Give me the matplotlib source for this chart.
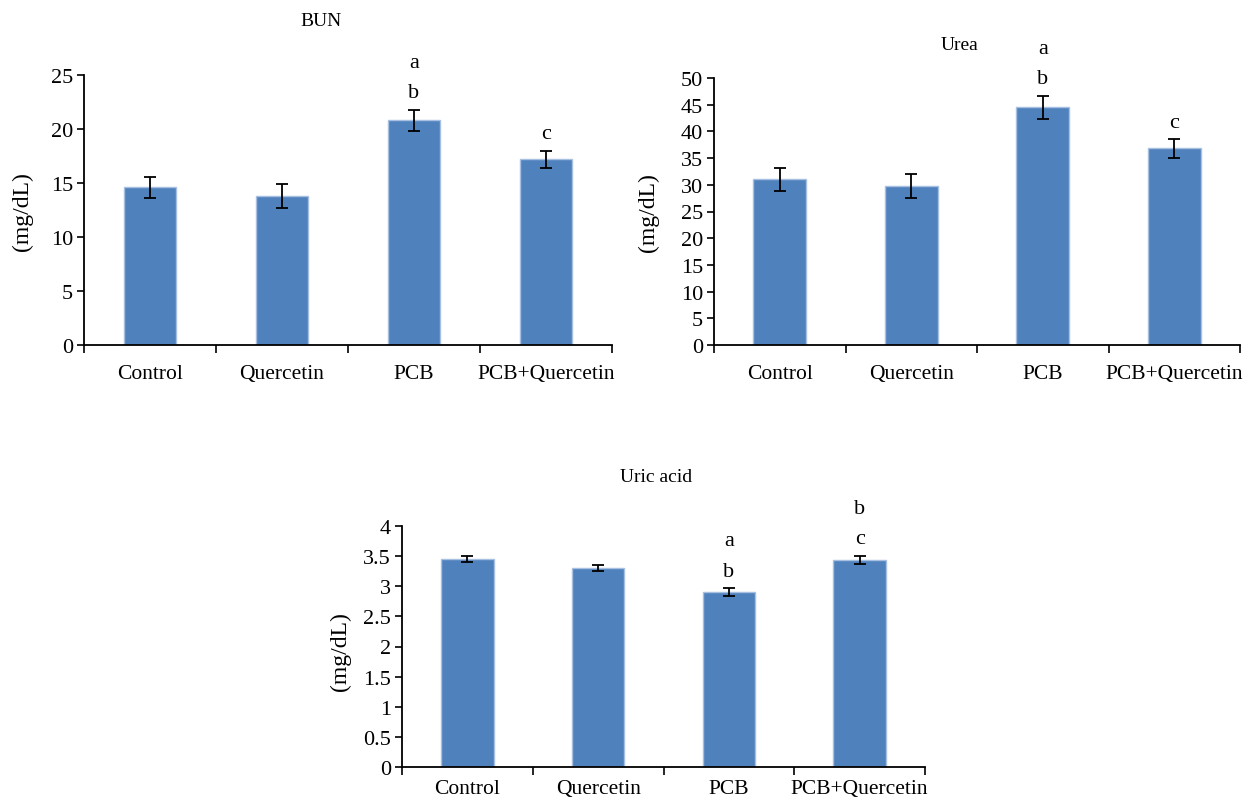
import numpy as np
import matplotlib.pyplot as plt

plt.rcParams['font.family'] = ['Liberation Serif', 'DejaVu Serif']

groups = ['Control', 'Quercetin', 'PCB', 'PCB+Quercetin']

# mean and error values
bun = [14.6, 13.8, 20.8, 17.2]
bun_err = [1.0, 1.1, 1.0, 0.8]
urea = [31.0, 29.8, 44.5, 36.8]
urea_err = [2.2, 2.3, 2.2, 1.8]
uric = [3.46, 3.30, 2.90, 3.44]
uric_err = [0.05, 0.05, 0.07, 0.07]

# significance letters, bottom to top
bun_sig = [[], [], ['b', 'a'], ['c']]
urea_sig = [[], [], ['b', 'a'], ['c']]
uric_sig = [[], [], ['b', 'a'], ['c', 'b']]

bar_color = '#4F81BD'


def draw_panel(ax, vals, errs, sig, ymax, ystep, fmt, xpad=14):
    x = np.arange(len(groups))
    ax.bar(x, vals, width=0.4, color=bar_color, edgecolor='#A7BFE0', linewidth=1.0, zorder=2)
    ax.errorbar(x, vals, yerr=errs, fmt='none', ecolor='black', elinewidth=1.3,
                capsize=4, capthick=1.3, zorder=3)
    for i, letters in enumerate(sig):
        for k, s in enumerate(letters):
            ax.annotate(s, (x[i], vals[i] + errs[i]), xytext=(0, 12 + 22 * k),
                        textcoords='offset points', ha='center', va='center',
                        fontsize=16, annotation_clip=False)
    ax.set_xlim(-0.5, len(groups) - 0.5)
    ax.set_ylim(0, ymax)
    ticks = np.arange(0, ymax + ystep / 2, ystep)
    ax.set_yticks(ticks)
    ax.set_yticklabels([fmt(t) for t in ticks], fontsize=16)
    ax.set_xticks(x)
    ax.set_xticklabels(groups, fontsize=15.5)
    ax.set_xticks(np.arange(-0.5, len(groups), 1.0), minor=True)
    ax.tick_params(axis='x', which='major', length=0, pad=xpad)
    ax.tick_params(axis='x', which='minor', length=6, width=1.2, direction='out')
    ax.tick_params(axis='y', length=5, width=1.2, direction='out', pad=3)
    for side in ['top', 'right']:
        ax.spines[side].set_visible(False)
    ax.spines['bottom'].set_linewidth(1.3)
    ax.spines['left'].set_linewidth(1.3)


def fmt_int(t):
    return '%d' % t


def fmt_half(t):
    return ('%d' % t) if t == int(t) else ('%.1f' % t)


fig = plt.figure(figsize=(12.5, 8.03), dpi=100)

ax1 = fig.add_axes([84 / 1250, 1 - 346 / 803, 528 / 1250, 270 / 803])
draw_panel(ax1, bun, bun_err, bun_sig, 25, 5, fmt_int)

ax2 = fig.add_axes([714 / 1250, 1 - 346 / 803, 526 / 1250, 267 / 803])
draw_panel(ax2, urea, urea_err, urea_sig, 50, 5, fmt_int)

ax3 = fig.add_axes([402 / 1250, 1 - 768 / 803, 523 / 1250, 241 / 803])
draw_panel(ax3, uric, uric_err, uric_sig, 4, 0.5, fmt_half, xpad=9)

fig.text(321 / 1250, 1 - 22 / 803, 'BUN', ha='center', va='center', fontsize=14)
fig.text(960 / 1250, 1 - 45 / 803, 'Urea', ha='center', va='center', fontsize=14)
fig.text(656 / 1250, 1 - 478 / 803, 'Uric acid', ha='center', va='center', fontsize=14)

fig.text(22 / 1250, 1 - 212 / 803, '(mg/dL)', rotation=90, ha='center', va='center', fontsize=17)
fig.text(648 / 1250, 1 - 213 / 803, '(mg/dL)', rotation=90, ha='center', va='center', fontsize=17)
fig.text(340 / 1250, 1 - 652 / 803, '(mg/dL)', rotation=90, ha='center', va='center', fontsize=17)

fig.savefig('out.png', dpi=100)
